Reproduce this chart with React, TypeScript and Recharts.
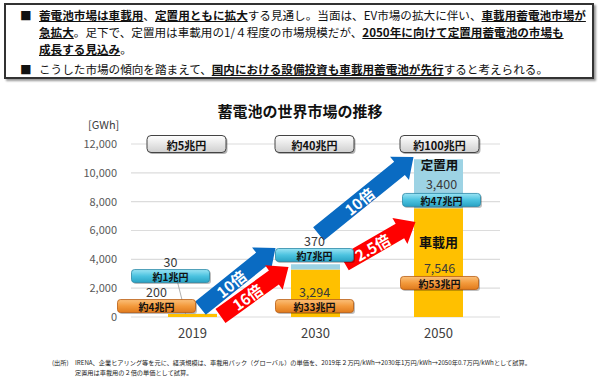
import React from 'react';
import { BarChart, Bar, XAxis, YAxis, CartesianGrid, ReferenceDot, ReferenceLine } from 'recharts';

/* ─── Data ────────────────────────────────────────────────────────────────── */

const years = ['2019', '2030', '2050'];
const vehicleGWh = [200, 3294, 7546];
const stationaryGWh = [30, 370, 3400];
const yTicks = [0, 2000, 4000, 6000, 8000, 10000, 12000];
const marketYen = ['約5兆円', '約40兆円', '約100兆円'];
const vehicleYen = ['約4兆円', '約33兆円', '約53兆円'];
const stationaryYen = ['約1兆円', '約7兆円', '約47兆円'];
const stationaryGrowth = ['10倍', '10倍'];
const vehicleGrowth = ['16倍', '2.5倍'];

const data = years.map((y, i) => ({ year: y, ev: vehicleGWh[i], st: stationaryGWh[i] }));

/* ─── Annotation layout (GWh anchors + pixel nudges) ─────────────────────── */

const vehiclePill = [{ y: 760, dx: -36, vy: -15 }, { y: 760, dx: -1, vy: -15 }, { y: 2360, dx: 1, vy: -15 }];
const stationaryPill = [{ y: 2840, dx: -22, vy: -15 }, { y: 4300, dx: -1, vy: -15 }, { y: 8120, dx: 3, vy: -16 }];
const marketDx = [-6, -1, 1];
const blueArrows = [
  { y0: 620, y1: 4790, dx0: 8, dx1: -40 },
  { y0: 5760, y1: 11100, dx0: 3, dx1: -25 },
];
const redArrows = [
  { y0: 70, y1: 3470, dx0: 28, dx1: -27 },
  { y0: 3745, y1: 6590, dx0: 29, dx1: -23 },
];

const FONT = '"Noto Sans CJK JP", "Noto Sans", sans-serif';
const YELLOW = '#ffc000';
const LIGHTBLUE = '#9dd3e4';

/* ─── Shapes ──────────────────────────────────────────────────────────────── */

function Pill({ cx, cy, dx, vy, text, value, kind }: any) {
  const w = 78, h = 13;
  const x = cx + dx - w / 2;
  const grad = kind === 'ev' ? 'url(#gOrange)' : 'url(#gCyan)';
  const stroke = kind === 'ev' ? '#b85c12' : '#2a88a6';
  return (
    <g>
      <rect x={x + 1.5} y={cy - h / 2 + 1.5} width={w} height={h} rx={3} fill="rgba(0,0,0,0.25)" />
      <rect x={x} y={cy - h / 2} width={w} height={h} rx={3} fill={grad} stroke={stroke} strokeWidth={0.8} />
      <text x={cx + dx} y={cy + 0.5} textAnchor="middle" dominantBaseline="central"
        fontFamily={FONT} fontSize={10} fontWeight={700} fill="#111">{text}</text>
      <text x={cx + dx} y={cy + vy} textAnchor="middle" dominantBaseline="central"
        fontFamily={FONT} fontSize={12.5} fill="#3a3a3a">{value}</text>
    </g>
  );
}

function MarketBox({ cx, cy, dx, text }: any) {
  const w = 79, h = 17;
  const x = cx + dx - w / 2;
  return (
    <g>
      <rect x={x + 1.5} y={cy - h / 2 + 1.5} width={w} height={h} rx={4} fill="rgba(0,0,0,0.3)" />
      <rect x={x} y={cy - h / 2} width={w} height={h} rx={4} fill="url(#gGrey)" stroke="#444" strokeWidth={1} />
      <text x={cx + dx} y={cy + 0.5} textAnchor="middle" dominantBaseline="central"
        fontFamily={FONT} fontSize={11} fontWeight={700} fill="#111">{text}</text>
    </g>
  );
}

function Arrow({ x1, y1, x2, y2, dx0, dx1, color, text }: any) {
  const tx = x1 + dx0, ty = y1, px = x2 + dx1, py = y2;
  const len = Math.hypot(px - tx, py - ty);
  const ux = (px - tx) / len, uy = (py - ty) / len;
  const nx = -uy, ny = ux;
  const w = 8.5, hw = 15, hl = 18;
  const kx = px - ux * hl, ky = py - uy * hl;
  const pts = [
    [tx + nx * w, ty + ny * w], [kx + nx * w, ky + ny * w], [kx + nx * hw, ky + ny * hw],
    [px, py],
    [kx - nx * hw, ky - ny * hw], [kx - nx * w, ky - ny * w], [tx - nx * w, ty - ny * w],
  ].map((p) => p.join(',')).join(' ');
  const mx = (tx + kx) / 2, my = (ty + ky) / 2;
  const deg = (Math.atan2(uy, ux) * 180) / Math.PI;
  return (
    <g>
      <polygon points={pts} fill={color} />
      <text x={mx} y={my} transform={`rotate(${deg} ${mx} ${my})`} textAnchor="middle" dominantBaseline="central"
        fontFamily={FONT} fontSize={15} fontWeight={700} fill="#fff">{text}</text>
    </g>
  );
}

/* ─── Chart ───────────────────────────────────────────────────────────────── */

function MarketChart() {
  return (
    <BarChart width={600} height={380} data={data} margin={{ top: 144, right: 100, bottom: 33, left: 71 }}
      barSize={49}>
      <defs>
        <linearGradient id="gOrange" x1="0" y1="0" x2="0" y2="1">
          <stop offset="0" stopColor="#fbc07a" />
          <stop offset="0.5" stopColor="#f39a3c" />
          <stop offset="1" stopColor="#e07a1c" />
        </linearGradient>
        <linearGradient id="gCyan" x1="0" y1="0" x2="0" y2="1">
          <stop offset="0" stopColor="#9be4f4" />
          <stop offset="0.5" stopColor="#4cc3e0" />
          <stop offset="1" stopColor="#29a3c4" />
        </linearGradient>
        <linearGradient id="gGrey" x1="0" y1="0" x2="0" y2="1">
          <stop offset="0" stopColor="#ffffff" />
          <stop offset="1" stopColor="#cfcfcf" />
        </linearGradient>
      </defs>
      <CartesianGrid vertical={false} stroke="#dcdcdc" strokeWidth={1.2} />
      <XAxis dataKey="year" axisLine={false} tickLine={false} tickMargin={6}
        tick={{ fill: '#404040', fontSize: 13, fontFamily: FONT }} />
      <YAxis domain={[0, 12000]} ticks={yTicks} width={60} axisLine={false} tickLine={false} tickMargin={8}
        tickFormatter={(v: number) => v.toLocaleString('en-US')}
        tick={{ fill: '#595959', fontSize: 11, fontFamily: FONT }} />
      <Bar dataKey="ev" stackId="a" fill={YELLOW} isAnimationActive={false} />
      <Bar dataKey="st" stackId="a" fill={LIGHTBLUE} isAnimationActive={false} />

      <ReferenceLine segment={[{ x: '2019', y: 2700 }, { x: '2019', y: 230 }]}
        shape={(p: any) => <line x1={p.x1 - 16} y1={p.y1} x2={p.x2 - 7} y2={p.y2} stroke="#999" strokeWidth={0.8} />} />

      {blueArrows.map((a, i) => (
        <ReferenceLine key={`b${i}`} segment={[{ x: years[i], y: a.y0 }, { x: years[i + 1], y: a.y1 }]}
          shape={(p: any) => <Arrow {...p} dx0={a.dx0} dx1={a.dx1} color="#0a6bc2" text={stationaryGrowth[i]} />} />
      ))}
      {redArrows.map((a, i) => (
        <ReferenceLine key={`r${i}`} segment={[{ x: years[i], y: a.y0 }, { x: years[i + 1], y: a.y1 }]}
          shape={(p: any) => <Arrow {...p} dx0={a.dx0} dx1={a.dx1} color="#ff0000" text={vehicleGrowth[i]} />} />
      ))}

      {years.map((y, i) => (
        <ReferenceDot key={`m${y}`} x={y} y={12000} r={1}
          shape={(p: any) => <MarketBox cx={p.cx} cy={p.cy} dx={marketDx[i]} text={marketYen[i]} />} />
      ))}
      {years.map((y, i) => (
        <ReferenceDot key={`e${y}`} x={y} y={vehiclePill[i].y} r={1}
          shape={(p: any) => <Pill cx={p.cx} cy={p.cy} dx={vehiclePill[i].dx} vy={vehiclePill[i].vy} kind="ev"
            text={vehicleYen[i]} value={vehicleGWh[i].toLocaleString('en-US')} />} />
      ))}
      {years.map((y, i) => (
        <ReferenceDot key={`s${y}`} x={y} y={stationaryPill[i].y} r={1}
          shape={(p: any) => <Pill cx={p.cx} cy={p.cy} dx={stationaryPill[i].dx} vy={stationaryPill[i].vy} kind="st"
            text={stationaryYen[i]} value={stationaryGWh[i].toLocaleString('en-US')} />} />
      ))}
      <ReferenceDot x="2050" y={10600} r={1}
        shape={(p: any) => <text x={p.cx + 1} y={p.cy} textAnchor="middle" dominantBaseline="central"
          fontFamily={FONT} fontSize={12.5} fontWeight={700} fill="#111">定置用</text>} />
      <ReferenceDot x="2050" y={5270} r={1}
        shape={(p: any) => <text x={p.cx} y={p.cy} textAnchor="middle" dominantBaseline="central"
          fontFamily={FONT} fontSize={13} fontWeight={700} fill="#111">車載用</text>} />
    </BarChart>
  );
}

/* ─── Page ────────────────────────────────────────────────────────────────── */

const U = { fontWeight: 700, textDecoration: 'underline' } as const;

export default function App() {
  return (
    <div style={{ position: 'absolute', left: 0, top: 0, width: 600, height: 380, background: '#fff',
      fontFamily: FONT, color: '#111', overflow: 'hidden' }}>
      <div style={{ position: 'absolute', left: 4, top: 3, width: 586, height: 72, border: '2px solid #333',
        boxShadow: '2px 2px 2px #999', fontSize: 11.6, lineHeight: '17px', whiteSpace: 'nowrap' }}>
        <div style={{ position: 'absolute', left: 14, top: 2 }}>■</div>
        <div style={{ position: 'absolute', left: 33, top: 2 }}>
          <span style={U}>蓄電池市場は車載用</span>、<span style={U}>定置用ともに拡大</span>する見通し。当面は、EV市場の拡大に伴い、<span style={U}>車載用蓄電池市場が</span><br />
          <span style={U}>急拡大</span>。足下で、定置用は車載用の1/４程度の市場規模だが、<span style={U}>2050年に向けて定置用蓄電池の市場も</span><br />
          <span style={U}>成長する見込み</span>。
        </div>
        <div style={{ position: 'absolute', left: 14, top: 56 }}>■</div>
        <div style={{ position: 'absolute', left: 33, top: 56 }}>
          こうした市場の傾向を踏まえて、<span style={U}>国内における設備投資も車載用蓄電池が先行</span>すると考えられる。
        </div>
      </div>

      <div style={{ position: 'absolute', left: 0, top: 0 }}>
        <MarketChart />
      </div>

      <div style={{ position: 'absolute', left: 0, width: 600, top: 101, textAlign: 'center', fontSize: 15,
        fontWeight: 700, lineHeight: '20px' }}>蓄電池の世界市場の推移</div>
      <div style={{ position: 'absolute', left: 88, top: 117, fontSize: 11, color: '#404040', lineHeight: '14px' }}>[GWh]</div>

      <div style={{ position: 'absolute', left: 52, top: 358, fontSize: 6.2, lineHeight: '10px', color: '#222',
        whiteSpace: 'nowrap' }}>(出所)</div>
      <div style={{ position: 'absolute', left: 75, top: 358, fontSize: 6.2, lineHeight: '10px', color: '#222',
        whiteSpace: 'nowrap' }}>
        IRENA、企業ヒアリング等を元に、経済規模は、車載用パック（グローバル）の単価を、2019年２万円/kWh→2030年1万円/kWh→2050年0.7万円/kWhとして試算。<br />
        定置用は車載用の２倍の単価として試算。
      </div>
    </div>
  );
}
